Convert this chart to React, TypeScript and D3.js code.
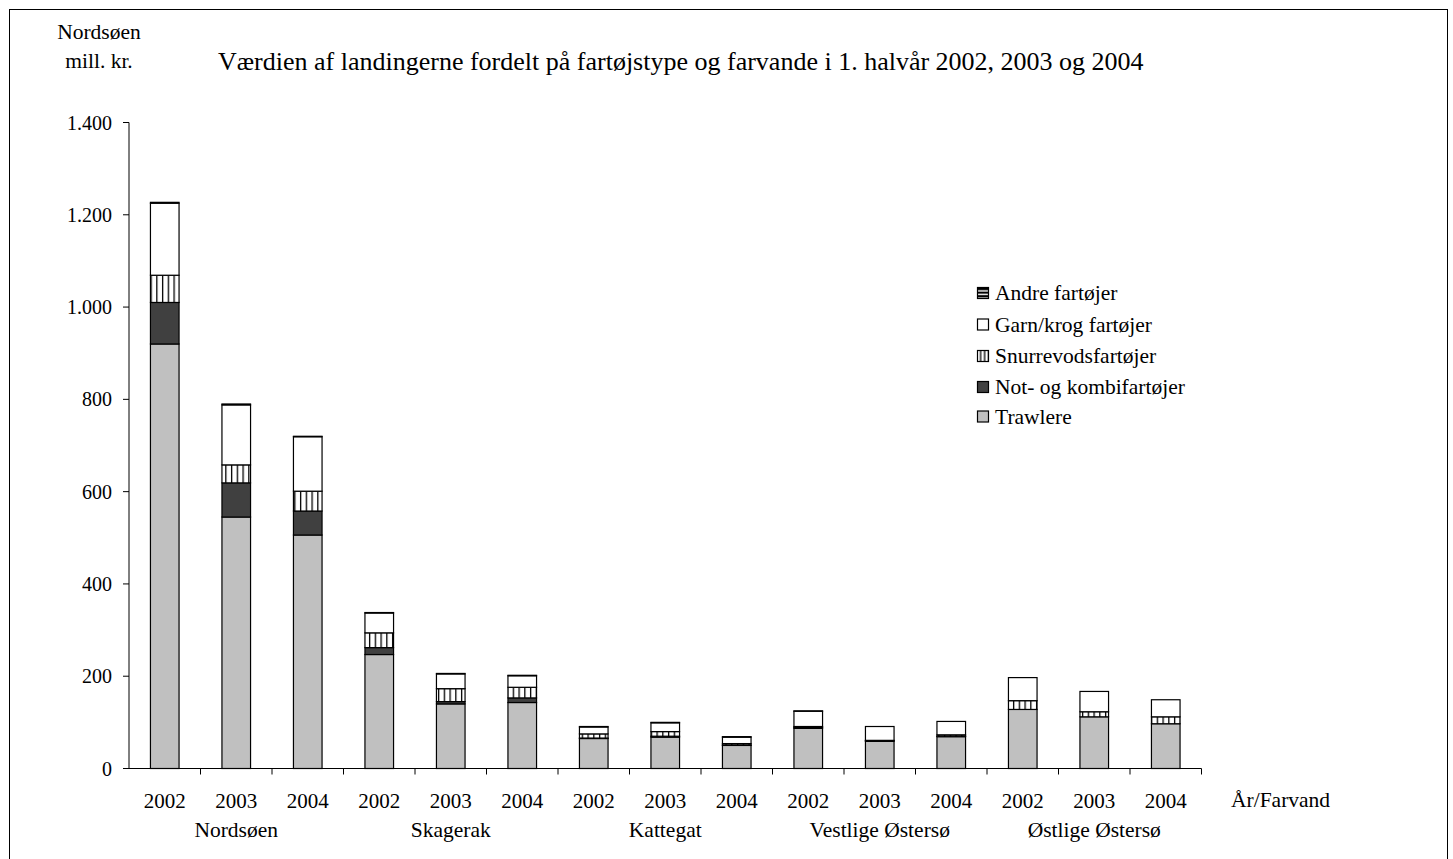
import React from "react";
import * as d3 from "d3";

const regions = ["Nordsøen", "Skagerak", "Kattegat", "Vestlige Østersø", "Østlige Østersø"];
const years = ["2002", "2003", "2004"];
const seriesNames = ["Trawlere", "Not- og kombifartøjer", "Snurrevodsfartøjer", "Garn/krog fartøjer", "Andre fartøjer"];

// values in mill. kr., order: region x year
const trawlere = [920, 545, 506, 247, 140, 143, 65, 68, 50, 87, 59, 69, 128, 112, 97];
const notKombi = [90, 74, 52, 15, 5, 10, 1, 2, 1, 2, 1, 1, 0, 0, 0];
const snurrevod = [59, 39, 43, 32, 28, 23, 9, 10, 3, 2, 1, 3, 19, 11, 15];
const garnKrog = [156, 130, 118, 43, 32, 25, 15, 19, 14, 33, 30, 29, 50, 44, 37];
const andre = [2, 2, 1, 1, 1, 1, 1, 1, 1, 1, 0, 0, 0, 0, 0];

const yTicks = [0, 200, 400, 600, 800, 1000, 1200, 1400];

const FONT = "'Liberation Serif', 'Times New Roman', serif";

export default function App() {
  const W = 1453, H = 859;
  const x0 = 129, x1 = 1201.5;
  const yBottom = 768.5, yTop = 122.5;

  const cats = regions.flatMap((r) => years.map((y) => `${r}|${y}`));
  const rows = cats.map((c, i) => ({
    key: c,
    s0: trawlere[i],
    s1: notKombi[i],
    s2: snurrevod[i],
    s3: garnKrog[i],
    s4: andre[i],
  }));

  const x = d3.scaleBand<string>().domain(cats).range([x0, x1]).paddingInner(0.6).paddingOuter(0.3);
  const xb = d3.scaleBand<string>().domain(cats).range([x0, x1]).padding(0);
  const y = d3.scaleLinear().domain([0, 1400]).range([yBottom, yTop]);

  const stack = d3.stack<any>().keys(["s0", "s1", "s2", "s3", "s4"]);
  const stacked = stack(rows);

  const fills = ["#c0c0c0", "#404040", "url(#vstripe)", "#ffffff", "url(#hstripe)"];

  const fmt = d3.formatLocale({ decimal: ",", thousands: ".", grouping: [3], currency: ["", ""] }).format(",d");

  const bw = x.bandwidth();
  const legendOrder = [4, 3, 2, 1, 0];
  const legendY = [293, 324.5, 356, 387, 416.5];

  return (
    <svg width={W} height={H} style={{ position: "absolute", left: 0, top: 0 }} fontFamily={FONT}>
      <defs>
        <pattern id="vstripe" patternUnits="userSpaceOnUse" width={5.75} height={10} x={x0 + (xb.bandwidth() - bw) / 2}>
          <rect width={5.75} height={10} fill="#fff" />
          <rect x={0} y={0} width={1.3} height={10} fill="#000" />
        </pattern>
        <pattern id="hstripe" patternUnits="userSpaceOnUse" width={10} height={4}>
          <rect width={10} height={4} fill="#fff" />
          <rect x={0} y={0} width={10} height={2} fill="#000" />
        </pattern>
        <pattern id="vstripeL" patternUnits="userSpaceOnUse" width={4} height={10} x={977.5}>
          <rect width={4} height={10} fill="#fff" />
          <rect x={2.5} y={0} width={1.3} height={10} fill="#000" />
        </pattern>
        <pattern id="hstripeL" patternUnits="userSpaceOnUse" width={10} height={3.6} y={288}>
          <rect width={10} height={3.6} fill="#000" />
          <rect x={0} y={2.2} width={10} height={1.4} fill="#fff" />
        </pattern>
      </defs>
      <rect x={0} y={0} width={W} height={H} fill="#fff" />
      <rect x={9.5} y={9.5} width={1438} height={860} fill="none" stroke="#000" strokeWidth={1} />

      {/* Title texts */}
      <text x={99} y={39} fontSize={21.5} textAnchor="middle">Nordsøen</text>
      <text x={99} y={68} fontSize={21.5} textAnchor="middle">mill. kr.</text>
      <text x={218} y={70} fontSize={26}>Værdien af landingerne fordelt på fartøjstype og farvande i 1. halvår 2002, 2003 og 2004</text>

      {/* bars */}
      {stacked.map((layer, li) => (
        <g key={li}>
          {layer.map((d, i) => {
            const h = y(d[0]) - y(d[1]);
            if (h <= 0) return null;
            return (
              <rect
                key={i}
                x={(x(cats[i]) as number)}
                y={y(d[1])}
                width={bw}
                height={h}
                fill={fills[li]}
                stroke="#000"
                strokeWidth={1.2}
              />
            );
          })}
        </g>
      ))}

      {/* y axis */}
      <line x1={x0} x2={x0} y1={yTop} y2={yBottom} stroke="#000" strokeWidth={1} />
      {yTicks.map((t) => (
        <g key={t}>
          <line x1={x0 - 6} x2={x0} y1={y(t)} y2={y(t)} stroke="#000" strokeWidth={1} />
          <text x={112} y={y(t) + 7} fontSize={20} textAnchor="end">{fmt(t)}</text>
        </g>
      ))}

      {/* x axis */}
      <line x1={x0} x2={x1} y1={yBottom} y2={yBottom} stroke="#000" strokeWidth={1} />
      {cats.map((c, i) => (
        <line key={c} x1={(xb(c) as number) + xb.bandwidth()} x2={(xb(c) as number) + xb.bandwidth()} y1={yBottom} y2={yBottom + 6} stroke="#000" strokeWidth={1} />
      ))}
      {cats.map((c, i) => (
        <text key={c} x={(xb(c) as number) + xb.bandwidth() / 2} y={808} fontSize={21} textAnchor="middle">
          {years[i % 3]}
        </text>
      ))}
      {regions.map((r, ri) => (
        <text key={r} x={(xb(cats[ri * 3 + 1]) as number) + xb.bandwidth() / 2} y={837} fontSize={21.5} textAnchor="middle">
          {r}
        </text>
      ))}
      <text x={1231} y={807} fontSize={21.5}>År/Farvand</text>

      {/* legend */}
      {legendOrder.map((si, k) => {
        const cy = legendY[k];
        const lf = si === 2 ? "url(#vstripeL)" : si === 4 ? "url(#hstripeL)" : fills[si];
        return (
          <g key={si}>
            <rect x={977.5} y={cy - 5.5} width={11} height={11} fill={lf} stroke="#000" strokeWidth={1.2} />
            <text x={995} y={cy + 7} fontSize={21.5}>{seriesNames[si]}</text>
          </g>
        );
      })}
    </svg>
  );
}
